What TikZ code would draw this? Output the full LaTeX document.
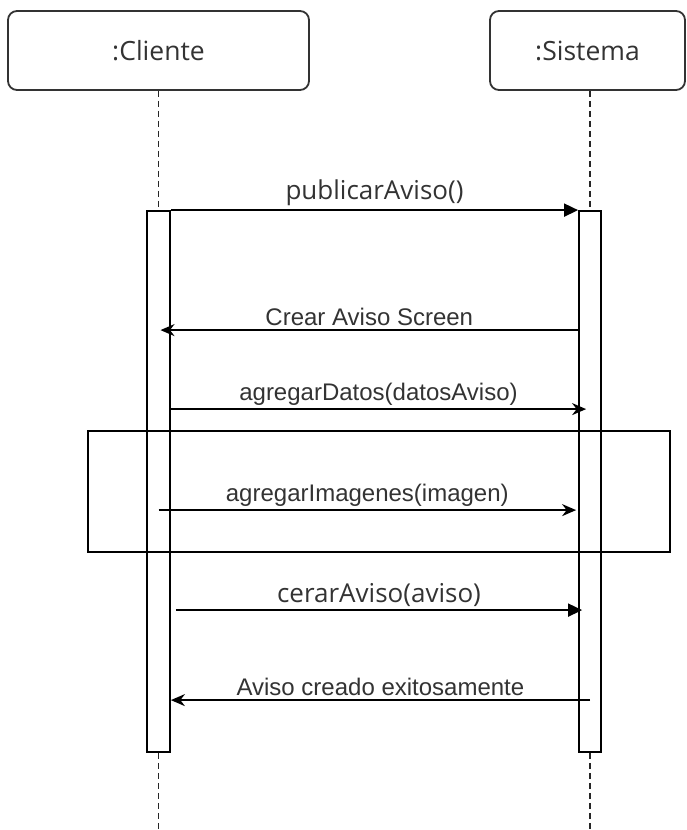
\documentclass[tikz,border=0pt]{standalone}
\usepackage{fontspec}
\setmainfont{Liberation Sans}
\newfontfamily\segoefont{Open Sans}
\usetikzlibrary{calc, arrows.meta}

\begin{document}
\begin{tikzpicture}[
            x=1pt, y=-1pt,
            actor/.style = {draw=black!80, line width=1.8pt, rounded corners=9pt, minimum width=301pt, minimum height=79pt, inner sep=0pt, font=\segoefont\fontsize{26.5}{30}\selectfont, text=black!80},
            lifeline/.style = {black!85, line width=1.5pt, dash pattern=on 6pt off 4pt},
            activation/.style = {draw, line width=1.8pt, fill=white, minimum width=22pt, minimum height=541pt, inner sep=0pt},
            msg/.style = {line width=1.8pt, -{Stealth[length=14pt, width=12pt]}},
            msgblock/.style = {line width=1.8pt, -{Triangle[length=14pt, width=13pt]}},
            lbl/.style = {above, inner sep=3pt, font=\fontsize{24}{28}\selectfont, text=black!80},
            lblsg/.style = {lbl, font=\segoefont\fontsize{26}{30}\selectfont},
            ]
            \useasboundingbox (0,0) rectangle (686,830);

            \node[actor]                          (cliente) at (158.5, 50.5) {:Cliente};
            \node[actor, minimum width=195pt]     (sistema) at (587.5, 50.5) {:Sistema};

            \node[activation, minimum width=23pt] (actC) at (158.5, 481.5) {};
            \node[activation]                     (actS) at (590, 481.5) {};

            \node[draw, line width=1.8pt, minimum width=582pt, minimum height=121pt, inner sep=0pt] (loop) at (379, 491.5) {};

            \coordinate (endC) at (158.5, 830);
            \coordinate (endS) at (590, 830);

            \draw[lifeline] (cliente.south -| actC.north) -- (actC.north);
            \draw[lifeline] (actC.south) -- (endC);
            \draw[lifeline] (sistema.south -| actS.north) -- (actS.north);
            \draw[lifeline] (actS.south) -- (endS);

            \draw[msgblock] (actC.north east) -- node[lblsg] (lblPub) {publicarAviso()} (actS.north west);
            \draw[msg] ($(actS.north west)+(0,120)$) -- node[lbl] (lblCrear) {Crear Aviso Screen} ($(actC.north)+(2,120)$);
            \draw[msg] ($(actC.north east)+(0,199)$) -- node[lbl] (lblDatos) {agregarDatos(datosAviso)} ($(actS.north west)+(8,199)$);
            \draw[msg] ($(actC.north)+(0,300)$) -- node[lbl] (lblImg) {agregarImagenes(imagen)} ($(actS.north west)+(-2,300)$);
            \draw[msgblock] ($(actC.north east)+(5,400)$) -- node[lblsg] (lblCerar) {cerarAviso(aviso)} ($(actS.north west)+(4,400)$);
            \draw[msg] ($(actS.north)+(0,490)$) -- node[lbl] (lblCreado) {Aviso creado exitosamente} ($(actC.north east)+(0,490)$);

        \end{tikzpicture}
\end{document}
